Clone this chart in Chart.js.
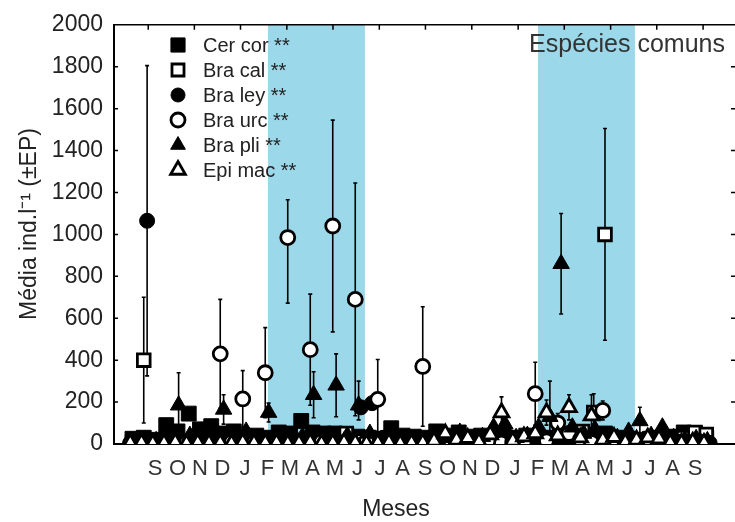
<!DOCTYPE html>
<html lang="pt">
<head>
<meta charset="utf-8">
<script src="https://cdn.jsdelivr.net/npm/chart.js@4.4.1/dist/chart.umd.min.js"></script>
<style>
  html, body { margin: 0; padding: 0; background: #fff; }
  #caixa { width: 735px; height: 522px; }
</style>
</head>
<body>
<div id="caixa"><canvas id="grafico"></canvas></div>
<script>
// eixo x em meses contados a partir do primeiro "S" (setembro)
const meses = ["S","O","N","D","J","F","M","A","M","J","J","A","S","O","N","D","J","F","M","A","M","J","J","A","S"];
const ticksY = [0, 200, 400, 600, 800, 1000, 1200, 1400, 1600, 1800, 2000];
const marcasTopo = [-0.3, 1.75, 3.8, 5.86, 7.91, 9.97, 12.02, 14.08, 16.14, 18.19, 20.25, 22.3, 24.36];
const periodos = [[5.02, 9.33], [17.02, 21.33]];   // faixas azuis (F a J)

const especies = ["Cer cor **", "Bra cal **", "Bra ley **", "Bra urc **", "Bra pli **", "Epi mac **"];

// datas de coleta (meses)
const datas = [-1, -0.5, 0, 0.5, 1, 1.5, 2, 2.5, 3, 3.5, 4, 4.5, 5, 5.5, 6, 6.5, 7, 7.5, 8, 8.5,
  9, 9.5, 10, 10.5, 11, 11.5, 12, 12.5, 13, 13.5, 14, 14.5, 15, 15.5, 16, 16.5, 17, 17.5, 18, 18.5,
  19, 19.5, 20, 20.5, 21, 21.5, 22, 22.5, 23, 23.5, 24, 24.5];

// médias (ind.l-1) e erro padrão; erro [baixo, cima] quando assimétrico
const cerCor = [25, 30, 20, 90, 60, 145, 70, 85, 50, 60, 35, 40, 30, 55, 50, 110, 55, 50, 50, 45,
  35, 30, 25, 75, 40, 35, 30, 60, 40, 55, 35, 40, 30, 45, 30, 40, 25, 30, 45, 35,
  25, 40, 50, 30, 25, 20, 25, 30, 35, 55, 50, 30];
const cerCorErro = [0, 0, 0, 15, 0, 25, 0, 0, 0, 0, 0, 0, 0, 0, 0, 20, 0, 0, 0, 0,
  0, 0, 0, 15, 0, 0, 0, 0, 0, 0, 0, 0, 0, 0, 0, 0, 0, 0, 0, 0,
  0, 0, 0, 0, 0, 0, 0, 0, 0, 0, 0, 0];

const braCal = [5, 400, 2, 8, 4, 10, 2, 6, 4, 2, 10, 4, 2, 5, 8, 15, 4, 10, 6, 50,
  15, 6, 4, 2, 5, 8, 4, 2, 5, 8, 4, 2, 5, 10, 8, 4, 2, 10, 15, 30,
  60, 150, 1000, 10, 8, 4, 2, 5, 10, 30, 55, 45];
const braCalErro = [0, 300, 0, 0, 0, 0, 0, 0, 0, 0, 0, 0, 0, 0, 0, 0, 0, 0, 0, 20,
  0, 0, 0, 0, 0, 0, 0, 0, 0, 0, 0, 0, 0, 0, 0, 0, 0, 0, 0, 0,
  0, 90, 505, 0, 0, 0, 0, 0, 0, 0, 15, 0];

const braLey = [5, 1065, 10, 5, 15, 10, 5, 10, 5, 15, 10, 5, 10, 5, 15, 10, 5, 20, 10, 15,
  175, 195, 30, 10, 5, 10, 5, 15, 10, 5, 10, 15, 5, 10, 5, 15, 10, 20, 15, 10,
  5, 10, 15, 5, 10, 5, 15, 10, 5, 10, 15, 5];
const braLeyErro = [0, 740, 0, 0, 0, 0, 0, 0, 0, 0, 0, 0, 0, 0, 0, 0, 0, 0, 0, 0,
  30, 25, 0, 0, 0, 0, 0, 0, 0, 0, 0, 0, 0, 0, 0, 0, 0, 0, 0, 0,
  0, 0, 0, 0, 0, 0, 0, 0, 0, 0, 0, 0];

const braUrc = [2, 5, 8, 2, 5, 10, 4, 6, 430, 10, 215, 6, 340, 4, 985, 10, 450, 12, 1040, 6,
  690, 15, 213, 4, 6, 10, 370, 4, 6, 10, 4, 6, 12, 4, 10, 6, 240, 15, 100, 50,
  20, 8, 160, 10, 4, 6, 4, 8, 4, 10, 6, 4];
const braUrcErro = [0, 0, 0, 0, 0, 0, 0, 0, 260, 0, 135, 0, 215, 0, [313, 180], 0, 265, 0, 505, 0,
  555, 0, 190, 0, 0, 0, 285, 0, 0, 0, 0, 0, 0, 0, 0, 0, 150, 0, 45, 0,
  0, 0, 45, 0, 0, 0, 0, 0, 0, 0, 0, 0];

const braPli = [10, 20, 15, 30, 185, 40, 30, 20, 165, 30, 60, 20, 150, 25, 20, 35, 235, 30, 280, 40,
  185, 50, 20, 15, 25, 20, 15, 25, 30, 55, 20, 35, 80, 95, 30, 40, 80, 130, 860, 80,
  50, 70, 40, 30, 60, 110, 40, 80, 30, 20, 25, 15];
const braPliErro = [0, 0, 0, 0, 155, 0, 0, 0, 70, 0, 0, 0, 45, 0, 0, 0, 110, 0, 150, 0,
  [70, 115], 0, 0, 0, 0, 0, 0, 0, 0, 0, 0, 0, 0, 40, 0, 0, 0, 170, 240, 0,
  0, 60, 0, 0, 0, 65, 0, 0, 0, 0, 0, 0];

const epiMac = [4, 6, 2, 4, 8, 2, 6, 4, 5, 2, 8, 4, 5, 6, 2, 5, 8, 2, 5, 8,
  6, 2, 5, 8, 2, 5, 6, 15, 50, 20, 28, 10, 45, 150, 15, 35, 50, 150, 40, 175,
  30, 135, 20, 33, 8, 20, 30, 25, 6, 4, 10, 5];
const epiMacErro = [0, 0, 0, 0, 0, 0, 0, 0, 0, 0, 0, 0, 0, 0, 0, 0, 0, 0, 0, 0,
  0, 0, 0, 0, 0, 0, 0, 0, 15, 0, 0, 0, 0, 75, 0, 0, 0, 60, 0, 60,
  0, 100, 0, 0, 0, 0, 0, 0, 0, 0, 0, 0];

const fonte = "'Liberation Sans', Arial, sans-serif";
const azul = "rgb(155, 216, 233)";

function serie(nome, valores, erros, desloc, estilo, cheio, raio, ordem) {
  return {
    label: nome,
    data: datas.map((d, i) => ({ x: d + desloc, y: valores[i] })),
    erros: erros,
    pointStyle: estilo,
    pointRadius: raio,
    pointHoverRadius: raio,
    pointBackgroundColor: cheio ? "#000" : "#fff",
    pointBorderColor: "#000",
    pointBorderWidth: cheio ? 1 : 2.8,
    showLine: false,
    order: ordem,
    clip: { left: 10, top: 10, right: 10, bottom: 0 }
  };
}

const datasets = [
  serie(especies[0], cerCor, cerCorErro, 0, "rect", true, 10.5, 6),
  serie(especies[1], braCal, braCalErro, 0, "rect", false, 9, 5),
  serie(especies[2], braLey, braLeyErro, 0.15, "circle", true, 7.5, 4),
  serie(especies[3], braUrc, braUrcErro, -0.1, "circle", false, 7, 3),
  serie(especies[4], braPli, braPliErro, 0.05, "triangle", true, 9.5, 2),
  serie(especies[5], epiMac, epiMacErro, -0.1, "triangle", false, 8.5, 1)
];

// faixas azuis atrás dos pontos
const faixas = {
  id: "faixas",
  beforeDatasetsDraw(chart) {
    const { ctx, chartArea: a, scales: { x } } = chart;
    ctx.save();
    ctx.fillStyle = azul;
    periodos.forEach(([ini, fim]) => {
      const x1 = x.getPixelForValue(ini), x2 = x.getPixelForValue(fim);
      ctx.fillRect(x1, a.top, x2 - x1, a.bottom - a.top);
    });
    ctx.restore();
  }
};

// barras de erro (±EP)
const barrasErro = {
  id: "barrasErro",
  beforeDatasetsDraw(chart) {
    const { ctx, scales: { x, y } } = chart;
    ctx.save();
    ctx.strokeStyle = "#000";
    ctx.lineWidth = 1.6;
    chart.data.datasets.forEach(ds => {
      ds.erros.forEach((e, i) => {
        if (!e) return;
        const [baixo, cima] = Array.isArray(e) ? e : [e, e];
        const p = ds.data[i];
        const px = x.getPixelForValue(p.x);
        const y1 = y.getPixelForValue(p.y + cima);
        const y2 = y.getPixelForValue(Math.max(0, p.y - baixo));
        ctx.beginPath();
        ctx.moveTo(px, y1); ctx.lineTo(px, y2);
        ctx.moveTo(px - 2, y1); ctx.lineTo(px + 2, y1);
        ctx.moveTo(px - 2, y2); ctx.lineTo(px + 2, y2);
        ctx.stroke();
      });
    });
    ctx.restore();
  }
};

// moldura, marcas internas, legenda e títulos
const moldura = {
  id: "moldura",
  afterDraw(chart) {
    const { ctx, chartArea: a, scales: { x, y } } = chart;
    ctx.save();
    ctx.strokeStyle = "#000";
    ctx.lineWidth = 1.5;
    ctx.beginPath();
    ctx.moveTo(a.left, a.top); ctx.lineTo(a.right, a.top);
    ticksY.forEach(v => {
      const py = y.getPixelForValue(v);
      ctx.moveTo(a.left, py); ctx.lineTo(a.left + 4, py);
      ctx.moveTo(a.right, py); ctx.lineTo(a.right - 4, py);
    });
    marcasTopo.forEach(m => {
      const px = x.getPixelForValue(m);
      ctx.moveTo(px, a.top); ctx.lineTo(px, a.top + 5);
    });
    ctx.stroke();

    // legenda
    ctx.font = "20px " + fonte;
    ctx.textBaseline = "middle";
    ctx.textAlign = "left";
    chart.data.datasets.forEach((ds, i) => {
      const ly = 45 + i * 25;
      ctx.fillStyle = ds.pointBackgroundColor;
      ctx.strokeStyle = "#000";
      ctx.lineWidth = ds.pointBorderWidth;
      const r = ds.pointStyle === "rect" ? (ds.pointBackgroundColor === "#000" ? 10 : 8.5)
        : ds.pointStyle === "circle" ? 7 : 8.5;
      Chart.helpers.drawPoint(ctx, {
        pointStyle: ds.pointStyle,
        radius: r,
        borderWidth: ds.pointBorderWidth,
        rotation: 0
      }, 178, ly);
      ctx.fillStyle = "#222";
      ctx.fillText(ds.label, 203, ly + 1);
    });

    // título do painel
    ctx.font = "25px " + fonte;
    ctx.textAlign = "right";
    ctx.fillStyle = "#333";
    ctx.fillText("Espécies comuns", 725, 45);

    // títulos dos eixos
    ctx.textAlign = "center";
    ctx.fillStyle = "#222";
    ctx.font = "23px " + fonte;
    ctx.fillText("Meses", 396, 510);
    ctx.translate(30, 224);
    ctx.rotate(-Math.PI / 2);
    ctx.fillText("Média ind.l⁻¹ (±EP)", 0, 0);
    ctx.restore();
  }
};

new Chart(document.getElementById("grafico"), {
  type: "scatter",
  data: { datasets },
  plugins: [faixas, barrasErro, moldura],
  options: {
    responsive: true,
    maintainAspectRatio: false,
    animation: false,
    devicePixelRatio: 1,
    layout: { autoPadding: false, padding: { top: 22, right: 0, left: 0, bottom: 0 } },
    plugins: { legend: { display: false }, tooltip: { enabled: false } },
    scales: {
      x: {
        type: "linear",
        min: -1.822,
        max: 25.778,
        afterBuildTicks: s => { s.ticks = meses.map((_, i) => ({ value: i })); },
        afterFit: s => { s.height = 78; },
        grid: { display: false, drawTicks: false },
        border: { display: true, color: "#000", width: 2 },
        ticks: {
          autoSkip: false,
          maxRotation: 0,
          padding: 12,
          color: "#333",
          font: { family: fonte, size: 22 },
          callback: v => meses[Math.round(v)]
        }
      },
      y: {
        min: 0,
        max: 2000,
        afterBuildTicks: s => { s.ticks = ticksY.map(v => ({ value: v })); },
        afterFit: s => { s.width = 114; },
        grid: { display: false, drawTicks: false },
        border: { display: true, color: "#000", width: 2 },
        ticks: {
          padding: 11,
          color: "#222",
          font: { family: fonte, size: 23 },
          callback: v => String(v)
        }
      }
    }
  }
});
</script>
</body>
</html>
